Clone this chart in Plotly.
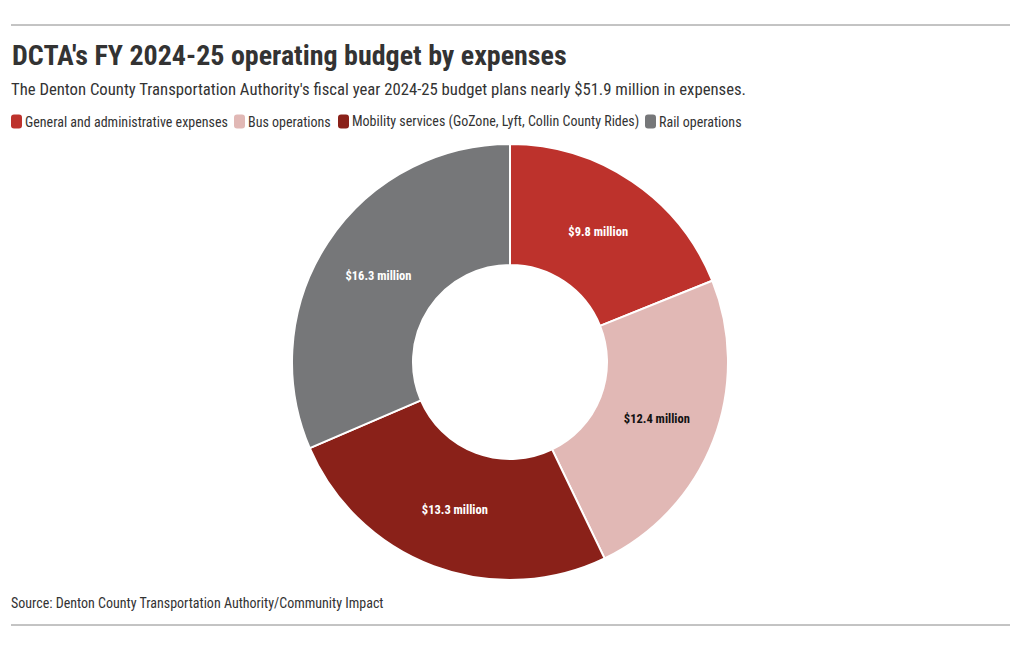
import plotly.graph_objects as go

categories = ["General and administrative expenses", "Bus operations",
              "Mobility services (GoZone, Lyft, Collin County Rides)", "Rail operations"]
values = [9.8, 12.4, 13.3, 16.3]
value_labels = ["$9.8 million", "$12.4 million", "$13.3 million", "$16.3 million"]
colors = ["#bd322c", "#e1b8b5", "#8a2119", "#767779"]
label_colors = ["#ffffff", "#111111", "#ffffff", "#ffffff"]

FONT = "Roboto Condensed, Liberation Sans Narrow, DejaVu Sans Condensed, Roboto, sans-serif"
W, H = 1020, 650
cx, cy, R = 510, 362, 218
legend_x = [11, 234, 338, 645]   # left edge of each legend swatch (px)
legend_y = 121.5

def px(x):
    return x / W

def py(y):
    return 1 - y / H

fig = go.Figure(go.Pie(
    labels=categories, values=values, text=value_labels,
    textinfo="text", textposition="inside", insidetextorientation="horizontal",
    sort=False, direction="clockwise", rotation=0, hole=0.445,
    marker=dict(colors=colors, line=dict(color="#ffffff", width=2)),
    textfont=dict(family=FONT, size=12.5, color=label_colors, weight="bold"),
    domain=dict(x=[px(cx - R), px(cx + R)], y=[py(cy + R), py(cy - R)]),
    hoverinfo="label+text", showlegend=False,
))

shapes = [
    dict(type="line", xref="paper", yref="paper", x0=px(11), x1=px(1010), y0=py(25), y1=py(25),
         line=dict(color="#888888", width=1)),
    dict(type="line", xref="paper", yref="paper", x0=px(11), x1=px(1010), y0=py(625), y1=py(625),
         line=dict(color="#888888", width=1)),
]
annotations = [
    dict(text="DCTA's FY 2024-25 operating budget by expenses", xref="paper", yref="paper",
         x=px(10), y=py(56), xanchor="left", yanchor="middle", showarrow=False,
         font=dict(size=28, family=FONT, color="#333333", weight="bold")),
    dict(text="The Denton County Transportation Authority's fiscal year 2024-25 budget plans nearly $51.9 million in expenses.",
         xref="paper", yref="paper", x=px(9), y=py(90), xanchor="left", yanchor="middle",
         showarrow=False, font=dict(size=16.7, family=FONT, color="#333333")),
    dict(text="Source: Denton County Transportation Authority/Community Impact",
         xref="paper", yref="paper", x=px(9), y=py(603), xanchor="left", yanchor="middle",
         showarrow=False, font=dict(size=14, family=FONT, color="#333333")),
]

# custom legend: rounded swatches + labels
w, h, r = 11, 14, 3
for lx, name, col in zip(legend_x, categories, colors):
    x0, x1 = lx, lx + w
    y0, y1 = legend_y - h / 2, legend_y + h / 2
    path = (f"M{px(x0 + r)},{py(y0)} L{px(x1 - r)},{py(y0)} Q{px(x1)},{py(y0)} {px(x1)},{py(y0 + r)} "
            f"L{px(x1)},{py(y1 - r)} Q{px(x1)},{py(y1)} {px(x1 - r)},{py(y1)} "
            f"L{px(x0 + r)},{py(y1)} Q{px(x0)},{py(y1)} {px(x0)},{py(y1 - r)} "
            f"L{px(x0)},{py(y0 + r)} Q{px(x0)},{py(y0)} {px(x0 + r)},{py(y0)} Z")
    shapes.append(dict(type="path", xref="paper", yref="paper", path=path,
                       fillcolor=col, line=dict(width=0)))
    annotations.append(dict(text=name, xref="paper", yref="paper", x=px(x1 + 1), y=py(legend_y),
                            xanchor="left", yanchor="middle", showarrow=False,
                            font=dict(size=14, family=FONT, color="#333333")))

fig.update_layout(
    width=W, height=H, margin=dict(l=0, r=0, t=0, b=0, autoexpand=False),
    paper_bgcolor="#ffffff", plot_bgcolor="#ffffff",
    font=dict(family=FONT, color="#333333"),
    showlegend=False,
    annotations=annotations, shapes=shapes,
)

fig.write_html("out.html")
